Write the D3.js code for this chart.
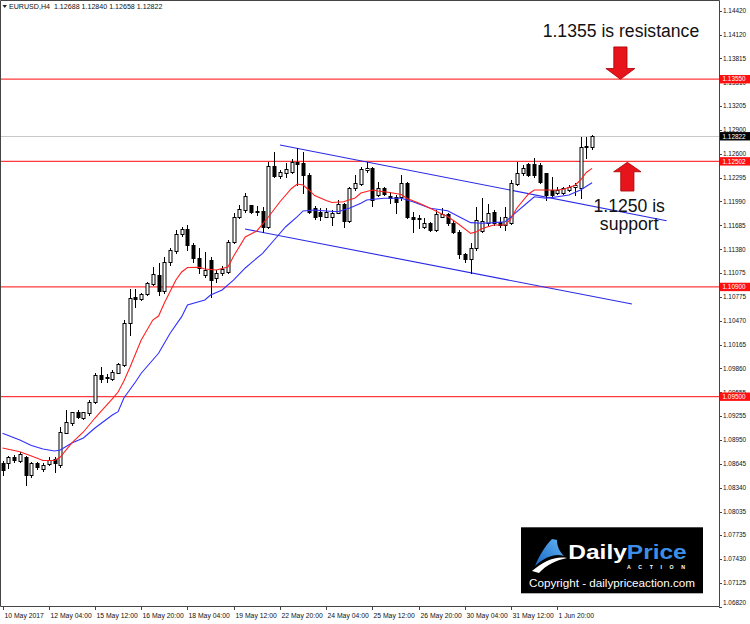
<!DOCTYPE html>
<html><head><meta charset="utf-8">
<script src="https://cdn.jsdelivr.net/npm/d3@7"></script>
<style>
html,body{margin:0;padding:0;background:#fff;}
svg{display:block;}
text{font-family:"Liberation Sans",Arial,sans-serif;}
</style>
</head><body>
<svg id="c" width="750" height="624"></svg>
<script>
// ---------- DATA ----------
const symbol = "EURUSD,H4";
const opens = [1.08654,1.08654,1.08731,1.08680,1.08731,1.08501,1.08654,1.08578,1.08642,1.08706,
1.08629,1.09041,1.09161,1.09305,1.09225,1.09288,1.09436,1.09773,1.09751,1.09726,
1.09806,1.09904,1.10444,1.10768,1.10746,1.10810,1.10938,1.11052,1.10848,1.11218,
1.11362,1.11575,1.11635,1.11435,1.11265,1.11052,1.11244,1.11010,1.11082,1.11095,
1.11477,1.11788,1.11881,1.11945,1.11875,1.11869,1.11668,1.12443,1.12319,1.12350,
1.12370,1.12498,1.12477,1.12328,1.11903,1.11860,1.11796,1.11788,1.11847,1.11958,
1.11745,1.12158,1.12213,1.12392,1.12413,1.12073,1.12158,1.12060,1.12051,1.12051,
1.12230,1.11788,1.11779,1.11668,1.11720,1.11626,1.11796,1.11830,1.11720,1.11605,
1.11320,1.11253,1.11393,1.11617,1.11720,1.11860,1.11728,1.11690,1.11720,1.12213,
1.12350,1.12464,1.12464,1.12455,1.12350,1.12137,1.12102,1.12094,1.12137,1.12171,
1.12158,1.12700,1.12688];
const highs = [1.08680,1.08744,1.08757,1.08799,1.08744,1.08671,1.08671,1.08654,1.08731,1.08735,
1.09117,1.09330,1.09309,1.09330,1.09309,1.09458,1.09799,1.09883,1.09790,1.09841,
1.09934,1.10478,1.10870,1.10874,1.10827,1.10963,1.11158,1.11205,1.11286,1.11397,
1.11626,1.11668,1.11690,1.11457,1.11393,1.11346,1.11286,1.11116,1.11167,1.11499,
1.11839,1.11945,1.12102,1.11945,1.11932,1.11924,1.12498,1.12625,1.12392,1.12477,
1.12528,1.12668,1.12625,1.12350,1.11932,1.11903,1.11903,1.11881,1.12009,1.11975,
1.12179,1.12328,1.12434,1.12498,1.12426,1.12242,1.12179,1.12115,1.12073,1.12328,
1.12242,1.11860,1.11818,1.11776,1.11732,1.11881,1.11903,1.11839,1.11754,1.11626,
1.11337,1.11457,1.11924,1.12031,1.11958,1.11881,1.11796,1.11924,1.12264,1.12498,
1.12455,1.12477,1.12541,1.12477,1.12357,1.12306,1.12171,1.12179,1.12200,1.12222,
1.12809,1.12809,1.12840];
const lows = [1.08501,1.08591,1.08667,1.08667,1.08374,1.08476,1.08578,1.08552,1.08625,1.08543,
1.08600,1.09033,1.09139,1.09225,1.09216,1.09267,1.09424,1.09691,1.09691,1.09713,
1.09799,1.09892,1.10287,1.10644,1.10734,1.10797,1.10925,1.10797,1.10827,1.11180,
1.11329,1.11550,1.11371,1.11222,1.11074,1.11027,1.10772,1.10967,1.11052,1.11074,
1.11457,1.11776,1.11860,1.11847,1.11818,1.11605,1.11648,1.12306,1.12286,1.12306,
1.12357,1.12200,1.12094,1.11839,1.11763,1.11754,1.11788,1.11690,1.11839,1.11668,
1.11732,1.12137,1.12200,1.12370,1.11932,1.12060,1.12073,1.11967,1.11839,1.12009,
1.11776,1.11605,1.11648,1.11648,1.11617,1.11617,1.11788,1.11690,1.11592,1.11265,
1.11222,1.11074,1.11371,1.11605,1.11690,1.11690,1.11668,1.11626,1.11703,1.12200,
1.12328,1.12315,1.12306,1.12230,1.12009,1.12051,1.12086,1.12086,1.12124,1.12073,
1.12031,1.12541,1.12658];
const closes = [1.08565,1.08731,1.08693,1.08769,1.08501,1.08654,1.08603,1.08629,1.08693,1.08654,
1.09054,1.09181,1.09305,1.09237,1.09299,1.09436,1.09777,1.09730,1.09739,1.09819,
1.09913,1.10444,1.10755,1.10742,1.10810,1.10947,1.11061,1.10848,1.11218,1.11371,
1.11575,1.11635,1.11435,1.11265,1.11138,1.11116,1.10989,1.11082,1.11125,1.11477,
1.11788,1.11894,1.12060,1.11860,1.11862,1.11668,1.12443,1.12319,1.12362,1.12401,
1.12498,1.12468,1.12328,1.11860,1.11796,1.11805,1.11860,1.11839,1.11958,1.11745,
1.12158,1.12230,1.12401,1.12421,1.12009,1.12158,1.12086,1.12031,1.11987,1.12230,
1.11788,1.11763,1.11767,1.11712,1.11626,1.11830,1.11830,1.11720,1.11605,1.11320,
1.11253,1.11393,1.11754,1.11745,1.11839,1.11720,1.11690,1.11796,1.12222,1.12357,
1.12413,1.12328,1.12328,1.12242,1.12073,1.12073,1.12137,1.12158,1.12179,1.12200,
1.12681,1.12688,1.12822];

// fast moving average (red), read at these bars
const redBars = [0,3,5,7,9,10,12,14,16,17,19,20,21,22,24,26,27,28,30,31,32,34,35,37,39,40,42,44,46,48,50,51,52,53,54,56,57,59,61,62,64,65,67,69,70,72,74,76,77,79,81,82,83,85,87,88,89,91,92,94,96,97,99,100,101,102];
const redVals = [1.08846,1.08799,1.08744,1.08686,1.08686,1.08731,1.08910,1.09050,1.09228,1.09309,1.09471,1.09560,
1.09700,1.09866,1.10223,1.10478,1.10529,1.10695,1.10989,1.11091,1.11148,1.11151,1.11129,1.11116,
1.11154,1.11295,1.11537,1.11614,1.11792,1.11987,1.12156,1.12213,1.12200,1.12137,1.12066,1.12003,
1.11977,1.11987,1.12035,1.12098,1.12137,1.12124,1.12105,1.12079,1.12028,1.11971,1.11903,1.11830,
1.11799,1.11697,1.11584,1.11605,1.11646,1.11690,1.11690,1.11779,1.11907,1.12086,1.12137,1.12137,
1.12137,1.12146,1.12194,1.12264,1.12360,1.12413];
// slow moving average (blue)
const blueBars = [0,3,5,7,9,10,12,14,16,19,20,21,23,24,27,29,31,32,35,36,38,40,42,45,47,49,51,52,54,56,58,60,62,63,66,69,71,74,77,79,81,83,85,87,89,91,92,94,96,98,100,102];
const blueVals = [1.09033,1.08948,1.08878,1.08833,1.08808,1.08820,1.08910,1.08973,1.09101,1.09267,1.09309,1.09484,
1.09688,1.09799,1.10054,1.10309,1.10521,1.10670,1.10734,1.10797,1.10861,1.10989,1.11142,1.11329,
1.11499,1.11668,1.11796,1.11869,1.11881,1.11869,1.11860,1.11903,1.11967,1.12009,1.12031,1.12031,
1.11987,1.11903,1.11873,1.11796,1.11720,1.11712,1.11720,1.11732,1.11860,1.11987,1.12051,1.12031,
1.12051,1.12073,1.12137,1.12230];

// channel trend lines [bar, price]
const channelUpper = [[48.0, 1.12711], [114.9, 1.11745]];
const channelLower = [[41.95, 1.11639], [108.9, 1.10683]];

// horizontal levels
const levels = [1.13550, 1.12502, 1.10900, 1.09500];
const currentPrice = 1.12822;
const resistance = 1.13550, support = 1.12502;

// axes
const yTicks = [1.14420,1.14120,1.13815,1.13510,1.13205,1.12900,1.12600,1.12295,1.11990,1.11685,1.11380,1.11075,
1.10775,1.10470,1.10165,1.09860,1.09555,1.09255,1.08950,1.08645,1.08340,1.08035,1.07735,1.07430,1.07125,1.06820];
const xTickBars = [0,8,16,24,32,40,48,56,64,72,80,88,96];
const xTickLabels = ["10 May 2017","12 May 04:00","15 May 12:00","16 May 20:00","18 May 04:00","19 May 12:00",
"22 May 20:00","24 May 04:00","25 May 12:00","26 May 20:00","30 May 04:00","31 May 12:00","1 Jun 20:00"];

// ---------- DRAW ----------
const svg = d3.select('#c');
const W = 750, H = 624, R = 719, B = 606;
const x = d3.scaleLinear().domain([0, 96]).range([2.5, 557.4]);
const y = d3.scaleLinear().domain([1.1355, 1.0950]).range([79.2, 396.7]);

svg.append('rect').attr('width', W).attr('height', H).attr('fill', '#fff');
const defs = svg.append('defs');
defs.append('clipPath').attr('id', 'plot')
  .append('rect').attr('x', 1).attr('y', 1).attr('width', R - 1).attr('height', B - 1);

const plot = svg.append('g').attr('clip-path', 'url(#plot)');

// current price line
plot.append('line').attr('x1', 0).attr('x2', R)
  .attr('y1', Math.round(y(currentPrice)) + 0.5).attr('y2', Math.round(y(currentPrice)) + 0.5)
  .attr('stroke', '#c8c8c8').attr('stroke-width', 1);

// horizontal levels
plot.selectAll('line.lvl').data(levels).join('line').attr('class', 'lvl')
  .attr('x1', 0).attr('x2', R)
  .attr('y1', d => y(d)).attr('y2', d => y(d))
  .attr('stroke', '#ff3a3a').attr('stroke-width', 1.2);

// channel lines
[channelUpper, channelLower].forEach(seg => {
  plot.append('line')
    .attr('x1', x(seg[0][0])).attr('y1', y(seg[0][1]))
    .attr('x2', x(seg[1][0])).attr('y2', y(seg[1][1]))
    .attr('stroke', '#2a2ae6').attr('stroke-width', 1.1);
});

// candles
const bars = d3.range(opens.length).map(i => ({i, o: opens[i], h: highs[i], l: lows[i], c: closes[i]}));
const cg = plot.append('g');
bars.forEach(b => {
  const px = Math.round(x(b.i));
  const yh = Math.round(y(b.h)), yl = Math.round(y(b.l));
  cg.append('line').attr('x1', px + 0.5).attr('x2', px + 0.5)
    .attr('y1', yh).attr('y2', yl + 1).attr('stroke', '#000').attr('stroke-width', 1);
  const top = Math.round(y(Math.max(b.o, b.c))), bot = Math.round(y(Math.min(b.o, b.c)));
  const up = b.c >= b.o;
  if (bot - top < 1) {
    cg.append('line').attr('x1', px - 1.5).attr('x2', px + 2.5)
      .attr('y1', top + 0.5).attr('y2', top + 0.5).attr('stroke', '#000');
  } else {
    cg.append('rect').attr('x', px - 1).attr('y', top + 0.5)
      .attr('width', 3).attr('height', bot - top)
      .attr('fill', up ? '#fff' : '#000').attr('stroke', '#000').attr('stroke-width', 1);
  }
});

// moving averages
const line = d3.line().x(d => x(d[0])).y(d => y(d[1]));
plot.append('path').datum(blueBars.map((b, k) => [b, blueVals[k]]))
  .attr('d', line).attr('fill', 'none').attr('stroke', '#3030ff').attr('stroke-width', 1.1);
plot.append('path').datum(redBars.map((b, k) => [b, redVals[k]]))
  .attr('d', line).attr('fill', 'none').attr('stroke', '#ff2020').attr('stroke-width', 1.1);

// frame
svg.append('path').attr('d', `M0.5,0.5H${R + 0.5}V${B + 0.5}H0.5Z`)
  .attr('fill', 'none').attr('stroke', '#444').attr('stroke-width', 1);

// header
svg.append('path').attr('d', 'M2.5,5 L7,5 L4.75,8 Z').attr('fill', '#222');
svg.append('text').attr('x', 9).attr('y', 9.2).attr('font-size', 7.1).attr('fill', '#111')
  .attr('xml:space', 'preserve')
  .text(`${symbol}  ${opens[opens.length-1].toFixed(5)} ${highs[highs.length-1].toFixed(5)} ${lows[lows.length-1].toFixed(5)} ${closes[closes.length-1].toFixed(5)}`);

// y axis
const yg = svg.append('g');
yTicks.forEach(t => {
  const yy = Math.round(y(t)) + 0.5;
  yg.append('line').attr('x1', R).attr('x2', R + 3).attr('y1', yy).attr('y2', yy).attr('stroke', '#444');
  yg.append('text').attr('x', 723).attr('y', Math.min(y(t), 603)).attr('dy', '0.35em')
    .attr('font-size', 6.4).attr('fill', '#111').text(t.toFixed(5));
});
levels.forEach(l => {
  yg.append('rect').attr('x', 720).attr('y', y(l) - 4.2).attr('width', 30).attr('height', 8.4).attr('fill', '#ff1010');
  yg.append('text').attr('x', 722.5).attr('y', y(l)).attr('dy', '0.35em')
    .attr('font-size', 6.4).attr('fill', '#fff').text(l.toFixed(5));
});
yg.append('rect').attr('x', 720).attr('y', y(currentPrice) - 4.2).attr('width', 30).attr('height', 8.4).attr('fill', '#000');
yg.append('text').attr('x', 722.5).attr('y', y(currentPrice)).attr('dy', '0.35em')
  .attr('font-size', 6.4).attr('fill', '#fff').text(currentPrice.toFixed(5));

// x axis
const xg = svg.append('g');
xTickBars.forEach((b, k) => {
  const xx = Math.round(x(b)) + 0.5;
  xg.append('line').attr('x1', xx).attr('x2', xx).attr('y1', B).attr('y2', B + 4).attr('stroke', '#444');
  xg.append('text').attr('x', xx + 1).attr('y', 617.5).attr('font-size', 6.8).attr('fill', '#111').text(xTickLabels[k]);
});

// annotations
const red = '#e8141c', redEdge = '#a50000';
function downArrow(cx, tipY) {
  const p = [[cx - 6.6, tipY - 32.3], [cx + 6.6, tipY - 32.3], [cx + 6.6, tipY - 10.7], [cx + 14.5, tipY - 10.7],
             [cx, tipY], [cx - 14.5, tipY - 10.7], [cx - 6.6, tipY - 10.7]];
  svg.append('path').attr('d', 'M' + p.join('L') + 'Z').attr('fill', red).attr('stroke', redEdge).attr('stroke-width', 0.8);
}
function upArrow(cx, tipY) {
  const p = [[cx, tipY], [cx + 13.7, tipY + 9.4], [cx + 6.6, tipY + 9.4], [cx + 6.6, tipY + 28.7],
             [cx - 6.6, tipY + 28.7], [cx - 6.6, tipY + 9.4], [cx - 13.7, tipY + 9.4]];
  svg.append('path').attr('d', 'M' + p.join('L') + 'Z').attr('fill', red).attr('stroke', redEdge).attr('stroke-width', 0.8);
}
downArrow(x(106.9), y(resistance));
upArrow(x(108.1), y(support) + 1);

svg.append('text').attr('x', 542.7).attr('y', y(resistance) - 42.5).attr('font-size', 17.6).attr('fill', '#111')
  .text(`${resistance.toFixed(4).replace(/0$/, '')} is resistance`);
svg.append('text').attr('x', 629.2).attr('y', 211.7).attr('text-anchor', 'middle').attr('font-size', 17.6).attr('fill', '#111')
  .text(`${support.toFixed(4)} is`);
svg.append('text').attr('x', 629.2).attr('y', 229.5).attr('text-anchor', 'middle').attr('font-size', 17.6).attr('fill', '#111')
  .text('support');

// logo
const lg = svg.append('g');
lg.append('rect').attr('x', 521).attr('y', 527.3).attr('width', 182).attr('height', 66).attr('fill', '#000');
const grad = defs.append('linearGradient').attr('id', 'sw').attr('x1', 0).attr('y1', 1).attr('x2', 1).attr('y2', 0);
grad.append('stop').attr('offset', 0).attr('stop-color', '#1565c0');
grad.append('stop').attr('offset', 1).attr('stop-color', '#64b5f6');
lg.append('path').attr('d', 'M535,566 C539,556 545,546 552,539 L557,540 C557,547 560,552 564,556 C555,553 545,557 535,566 Z')
  .attr('fill', 'url(#sw)');
lg.append('path').attr('d', 'M532,571 C544,561 555,556 567,558 C557,560 546,565 539,573 Z').attr('fill', '#fff');
const t = lg.append('text').attr('x', 568.3).attr('y', 559.3).attr('font-size', 21).attr('font-weight', 'bold')
  .attr('textLength', 118.4).attr('lengthAdjust', 'spacingAndGlyphs');
t.append('tspan').attr('fill', '#fff').text('Daily');
t.append('tspan').attr('fill', '#3d8fe6').text('Price');
lg.append('text').attr('x', 627).attr('y', 568.5).attr('font-size', 5.2).attr('font-weight', 'bold').attr('fill', '#fff')
  .attr('textLength', 58).attr('lengthAdjust', 'spacing').text('ACTION');
lg.append('text').attr('x', 529).attr('y', 586.7).attr('font-size', 11.7).attr('fill', '#fff')
  .attr('textLength', 166).attr('lengthAdjust', 'spacingAndGlyphs').text('Copyright - dailypriceaction.com');
</script>
</body></html>
